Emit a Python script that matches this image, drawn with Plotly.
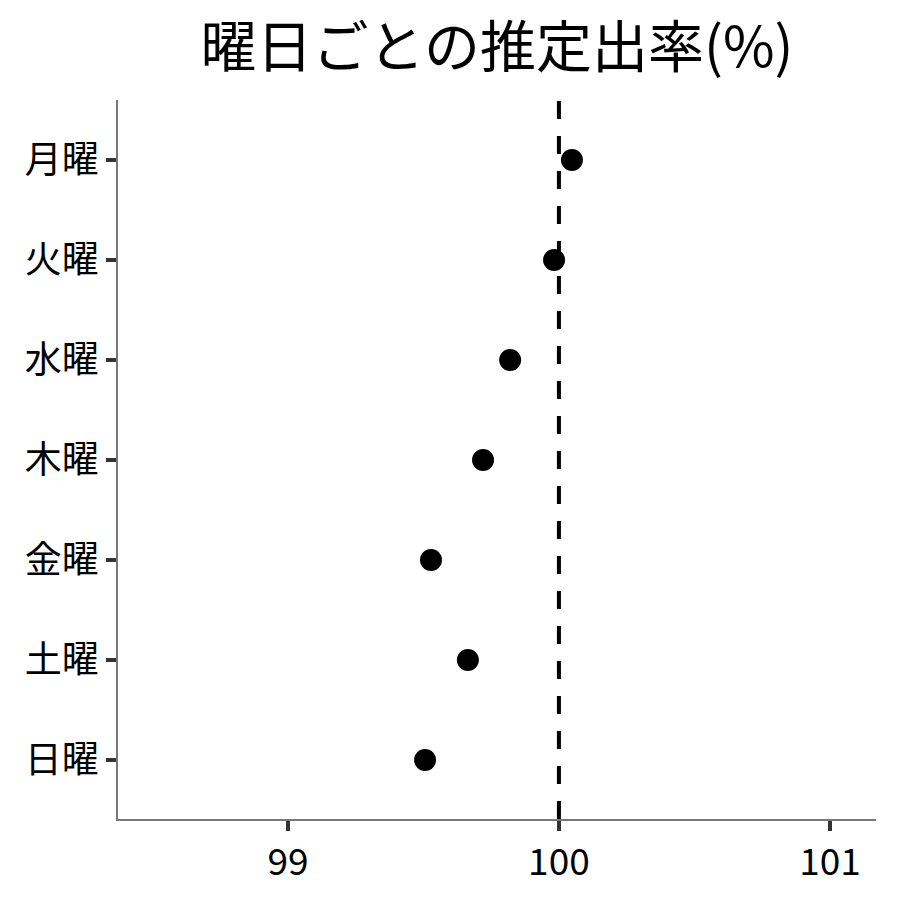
import plotly.graph_objects as go

days = ["月曜", "火曜", "水曜", "木曜", "金曜", "土曜", "日曜"]
rates = [100.048, 99.982, 99.82, 99.72, 99.528, 99.664, 99.506]
ref_value = 100
x_ticks = [99, 100, 101]
title = "曜日ごとの推定出率(%)"

font_family = "Noto Sans CJK JP"

fig = go.Figure()
fig.add_trace(go.Scatter(
    x=rates, y=days, mode="markers",
    marker=dict(color="black", size=22),
    showlegend=False, cliponaxis=False,
))
fig.add_shape(type="line", xref="x", yref="paper", x0=ref_value, x1=ref_value, y0=0, y1=1,
              line=dict(color="black", width=4, dash="18px,17px"))

fig.update_layout(
    width=900, height=900,
    margin=dict(l=110, r=32, t=92, b=89),
    paper_bgcolor="white", plot_bgcolor="white",
    font=dict(family=font_family, color="black"),
    title=dict(text=title, x=0.5, xref="paper", xanchor="center",
               y=1 - 39/900, yanchor="middle", font=dict(size=56, family=font_family)),
    xaxis=dict(range=[98.373, 101.17], tickvals=x_ticks, ticktext=[str(v) for v in x_ticks],
               showgrid=False, zeroline=False, showline=True, linecolor="#777", linewidth=1.5,
               ticks="outside", ticklen=10, tickwidth=4, tickcolor="#333",
               tickfont=dict(size=37, color="black")),
    yaxis=dict(categoryorder="array", categoryarray=days, range=[6.59, -0.6],
               showgrid=False, zeroline=False, showline=True, linecolor="#777", linewidth=1.5,
               ticks="outside", ticklen=10, tickwidth=4, tickcolor="#333",
               tickfont=dict(size=37, color="black")),
)

fig.write_html("out.html")
